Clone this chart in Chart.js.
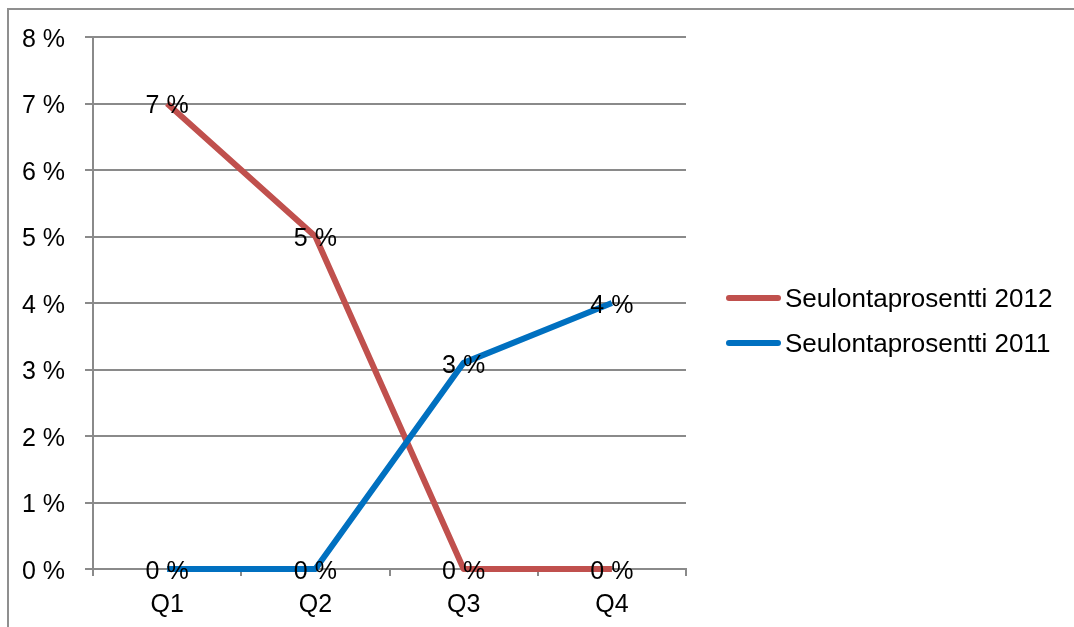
<!DOCTYPE html>
<html>
<head>
<meta charset="utf-8">
<script src="https://cdn.jsdelivr.net/npm/chart.js"></script>
<style>
  html, body { margin: 0; padding: 0; background: #fff; overflow: hidden; }
  #wrap { position: relative; width: 1074px; height: 627px; }
  #frame { position: absolute; left: 7px; top: 8px; width: 1200px; height: 800px; border: 2px solid #8f8f8f; box-sizing: border-box; }
  canvas { position: absolute; left: 0; top: 0; }
</style>
</head>
<body>
<div id="wrap">
  <div id="frame"></div>
  <canvas id="c" width="1074" height="627"></canvas>
</div>
<script>
// Data
const quarters = ['Q1', 'Q2', 'Q3', 'Q4'];
const series2012 = [7, 5, 0, 0];
const series2011 = [0, 0, 3.1, 4];
const seriesNames = ['Seulontaprosentti 2012', 'Seulontaprosentti 2011'];
const yTicks = [0, 1, 2, 3, 4, 5, 6, 7, 8];

const FONT = '"Liberation Sans", Arial, sans-serif';
const GRID = '#8a8a8a';

// draws "x %" labels on top of each point
const valueLabels = {
  id: 'valueLabels',
  afterDatasetsDraw(chart) {
    const ctx = chart.ctx;
    ctx.save();
    ctx.font = '25px ' + FONT;
    ctx.fillStyle = '#000';
    ctx.textAlign = 'center';
    ctx.textBaseline = 'middle';
    chart.data.datasets.forEach((ds, i) => {
      chart.getDatasetMeta(i).data.forEach((pt, j) => {
        ctx.fillText(Math.round(ds.data[j]) + ' %', pt.x, pt.y + 3);
      });
    });
    ctx.restore();
  }
};

// legend on the right, like the original
const sideLegend = {
  id: 'sideLegend',
  afterDraw(chart) {
    const ctx = chart.ctx;
    ctx.save();
    ctx.font = '26px ' + FONT;
    ctx.textBaseline = 'middle';
    ctx.fillStyle = '#000';
    chart.data.datasets.forEach((ds, i) => {
      const y = 298 + i * 45;
      ctx.strokeStyle = ds.borderColor;
      ctx.lineWidth = 6;
      ctx.lineCap = 'round';
      ctx.beginPath();
      ctx.moveTo(729, y);
      ctx.lineTo(778, y);
      ctx.stroke();
      ctx.fillText(ds.label, 785, y + 2);
    });
    ctx.restore();
  }
};

new Chart(document.getElementById('c'), {
  type: 'line',
  data: {
    labels: quarters,
    datasets: [
      { label: seriesNames[0], data: series2012, borderColor: '#c0504d', borderWidth: 6, order: 2, clip: false },
      { label: seriesNames[1], data: series2011, borderColor: '#0070c0', borderWidth: 6, order: 1, clip: false }
    ]
  },
  options: {
    responsive: false,
    animation: false,
    layout: { padding: { left: 0, top: 37, right: 388, bottom: 0 } },
    elements: {
      line: { borderWidth: 6, tension: 0, borderCapStyle: 'butt', borderJoinStyle: 'round' },
      point: { radius: 0, hoverRadius: 0 }
    },
    plugins: { legend: { display: false }, tooltip: { enabled: false } },
    scales: {
      x: {
        offset: true,
        grid: { offset: true, drawOnChartArea: false, drawTicks: true, tickLength: 7, color: GRID, lineWidth: 2 },
        border: { color: GRID, width: 2 },
        ticks: { color: '#000', font: { family: FONT, size: 25 }, padding: 14 },
        afterFit(s) { s.height = 58; }
      },
      y: {
        min: 0,
        max: 8,
        afterBuildTicks(s) { s.ticks = yTicks.map(v => ({ value: v })); },
        grid: { color: GRID, lineWidth: 2, tickLength: 8 },
        border: { color: GRID, width: 2 },
        ticks: { color: '#000', font: { family: FONT, size: 25 }, padding: 20, labelOffset: 3, callback: v => v + ' %' },
        afterFit(s) { s.width = 93; }
      }
    }
  },
  plugins: [valueLabels, sideLegend]
});
</script>
</body>
</html>
